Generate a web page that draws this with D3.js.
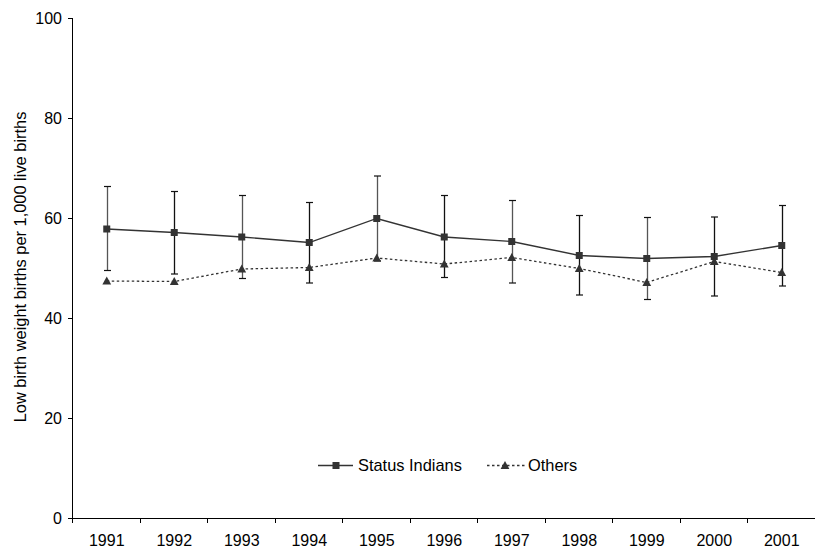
<!DOCTYPE html>
<html>
<head>
<meta charset="utf-8">
<script src="https://cdn.jsdelivr.net/npm/d3@7"></script>
<style>
  html, body { margin: 0; padding: 0; background: #fff; }
  svg { display: block; }
  text { font-family: "Liberation Sans", Arial, sans-serif; fill: #000; }
</style>
</head>
<body>
<svg id="chart" width="815" height="551"></svg>
<script>
const years = ["1991","1992","1993","1994","1995","1996","1997","1998","1999","2000","2001"];
const statusIndians = [57.8, 57.1, 56.2, 55.1, 59.9, 56.2, 55.3, 52.5, 51.9, 52.3, 54.5];
const statusUpper   = [66.3, 65.3, 64.5, 63.1, 68.4, 64.5, 63.5, 60.5, 60.1, 60.2, 62.5];
const statusLower   = [49.5, 48.8, 47.9, 47.0, 51.4, 48.1, 47.0, 44.6, 43.7, 44.4, 46.4];
const others        = [47.4, 47.3, 49.8, 50.1, 52.0, 50.8, 52.1, 49.9, 47.1, 51.3, 49.1];
const yTicks = [0, 20, 40, 60, 80, 100];
const yTitle = "Low birth weight births per 1,000 live births";
const seriesNames = ["Status Indians", "Others"];

(function () {
const svg = d3.select("#chart");
const pL = 73, pR = 815.5, pT = 18, pB = 518;
const col = "#333";
const ff = "Liberation Sans, Arial, sans-serif";

const x = d3.scaleBand().domain(years).range([pL, pR]).padding(0);
const y = d3.scaleLinear().domain([0, 100]).range([pB, pT]);

// Y axis
const yAxis = svg.append("g").attr("transform", `translate(${pL},0)`)
  .call(d3.axisLeft(y).tickValues(yTicks).tickSize(5).tickPadding(6));
yAxis.select(".domain").attr("stroke", "#000").attr("d", `M-0.5,${pT}V${pB}`);
yAxis.selectAll(".tick line").attr("stroke", "#000");
yAxis.selectAll(".tick text").style("font-size", "16px").style("font-family", ff).attr("dy", "0.36em");

// X axis
const xAxis = svg.append("g").attr("transform", `translate(0,${pB})`);
xAxis.append("line").attr("x1", pL).attr("x2", pR).attr("y1", 0.5).attr("y2", 0.5).attr("stroke", "#000");
const bounds = years.map(d => x(d)).concat([x(years[years.length - 1]) + x.bandwidth()]);
xAxis.selectAll("line.tk").data(bounds).join("line").attr("class", "tk")
  .attr("x1", d => Math.round(d) - 0.5).attr("x2", d => Math.round(d) - 0.5)
  .attr("y1", 0).attr("y2", 5).attr("stroke", "#000");
xAxis.selectAll("text").data(years).join("text")
  .attr("x", d => x(d) + x.bandwidth() / 2).attr("y", 28)
  .attr("text-anchor", "middle").style("font-size", "16px").text(d => d);

// Y title
svg.append("text")
  .attr("transform", `translate(26,267) rotate(-90)`)
  .attr("text-anchor", "middle").style("font-size", "16.4px").text(yTitle);

const cx = d => x(d) + x.bandwidth() / 2;

// Others dotted line
const lineOthers = d3.line().x((d, i) => cx(years[i])).y(d => y(d));
svg.append("path").datum(others).attr("d", lineOthers)
  .attr("fill", "none").attr("stroke", col).attr("stroke-width", 1.3).attr("stroke-dasharray", "2.5,2.5");

// Status Indians error bars
const eb = svg.append("g");
years.forEach((yr, i) => {
  const xc = Math.round(cx(yr)) + 0.5;
  const sc = i % 2 === 0 && i < 10 ? "#555" : "#111";
  eb.append("line").attr("x1", xc).attr("x2", xc).attr("y1", y(statusUpper[i])).attr("y2", y(statusLower[i]))
    .attr("stroke", sc).attr("stroke-width", 1.3);
  [statusUpper[i], statusLower[i]].forEach(v => {
    eb.append("line").attr("x1", xc - 3.5).attr("x2", xc + 3.5).attr("y1", y(v)).attr("y2", y(v))
      .attr("stroke", "#111").attr("stroke-width", 1.2);
  });
});

// Status Indians solid line
const lineStatus = d3.line().x((d, i) => cx(years[i])).y(d => y(d));
svg.append("path").datum(statusIndians).attr("d", lineStatus)
  .attr("fill", "none").attr("stroke", col).attr("stroke-width", 1.3);

// Markers
const tri = (px, py, s) => `M${px},${py - s * 0.55}L${px + s * 0.55},${py + s * 0.45}L${px - s * 0.55},${py + s * 0.45}Z`;
svg.append("g").selectAll("rect").data(statusIndians).join("rect")
  .attr("x", (d, i) => cx(years[i]) - 3.5).attr("y", d => y(d) - 3.5)
  .attr("width", 7).attr("height", 7).attr("fill", col);
svg.append("g").selectAll("path").data(others).join("path")
  .attr("d", (d, i) => tri(cx(years[i]), y(d), 8)).attr("fill", col);

// Legend
const lg = svg.append("g");
const ly = 465.5;
lg.append("line").attr("x1", 318).attr("x2", 353).attr("y1", ly).attr("y2", ly).attr("stroke", col).attr("stroke-width", 1.3);
lg.append("rect").attr("x", 336 - 3.5).attr("y", ly - 3.5).attr("width", 7).attr("height", 7).attr("fill", col);
lg.append("text").attr("x", 358).attr("y", ly).attr("dy", "0.35em").style("font-size", "16.4px").text(seriesNames[0]);
lg.append("line").attr("x1", 487).attr("x2", 525).attr("y1", ly).attr("y2", ly).attr("stroke", col)
  .attr("stroke-width", 1.3).attr("stroke-dasharray", "2.5,2.5");
lg.append("path").attr("d", tri(505, ly, 8)).attr("fill", col);
lg.append("text").attr("x", 528).attr("y", ly).attr("dy", "0.35em").style("font-size", "16.4px").text(seriesNames[1]);
})();
</script>
</body>
</html>
